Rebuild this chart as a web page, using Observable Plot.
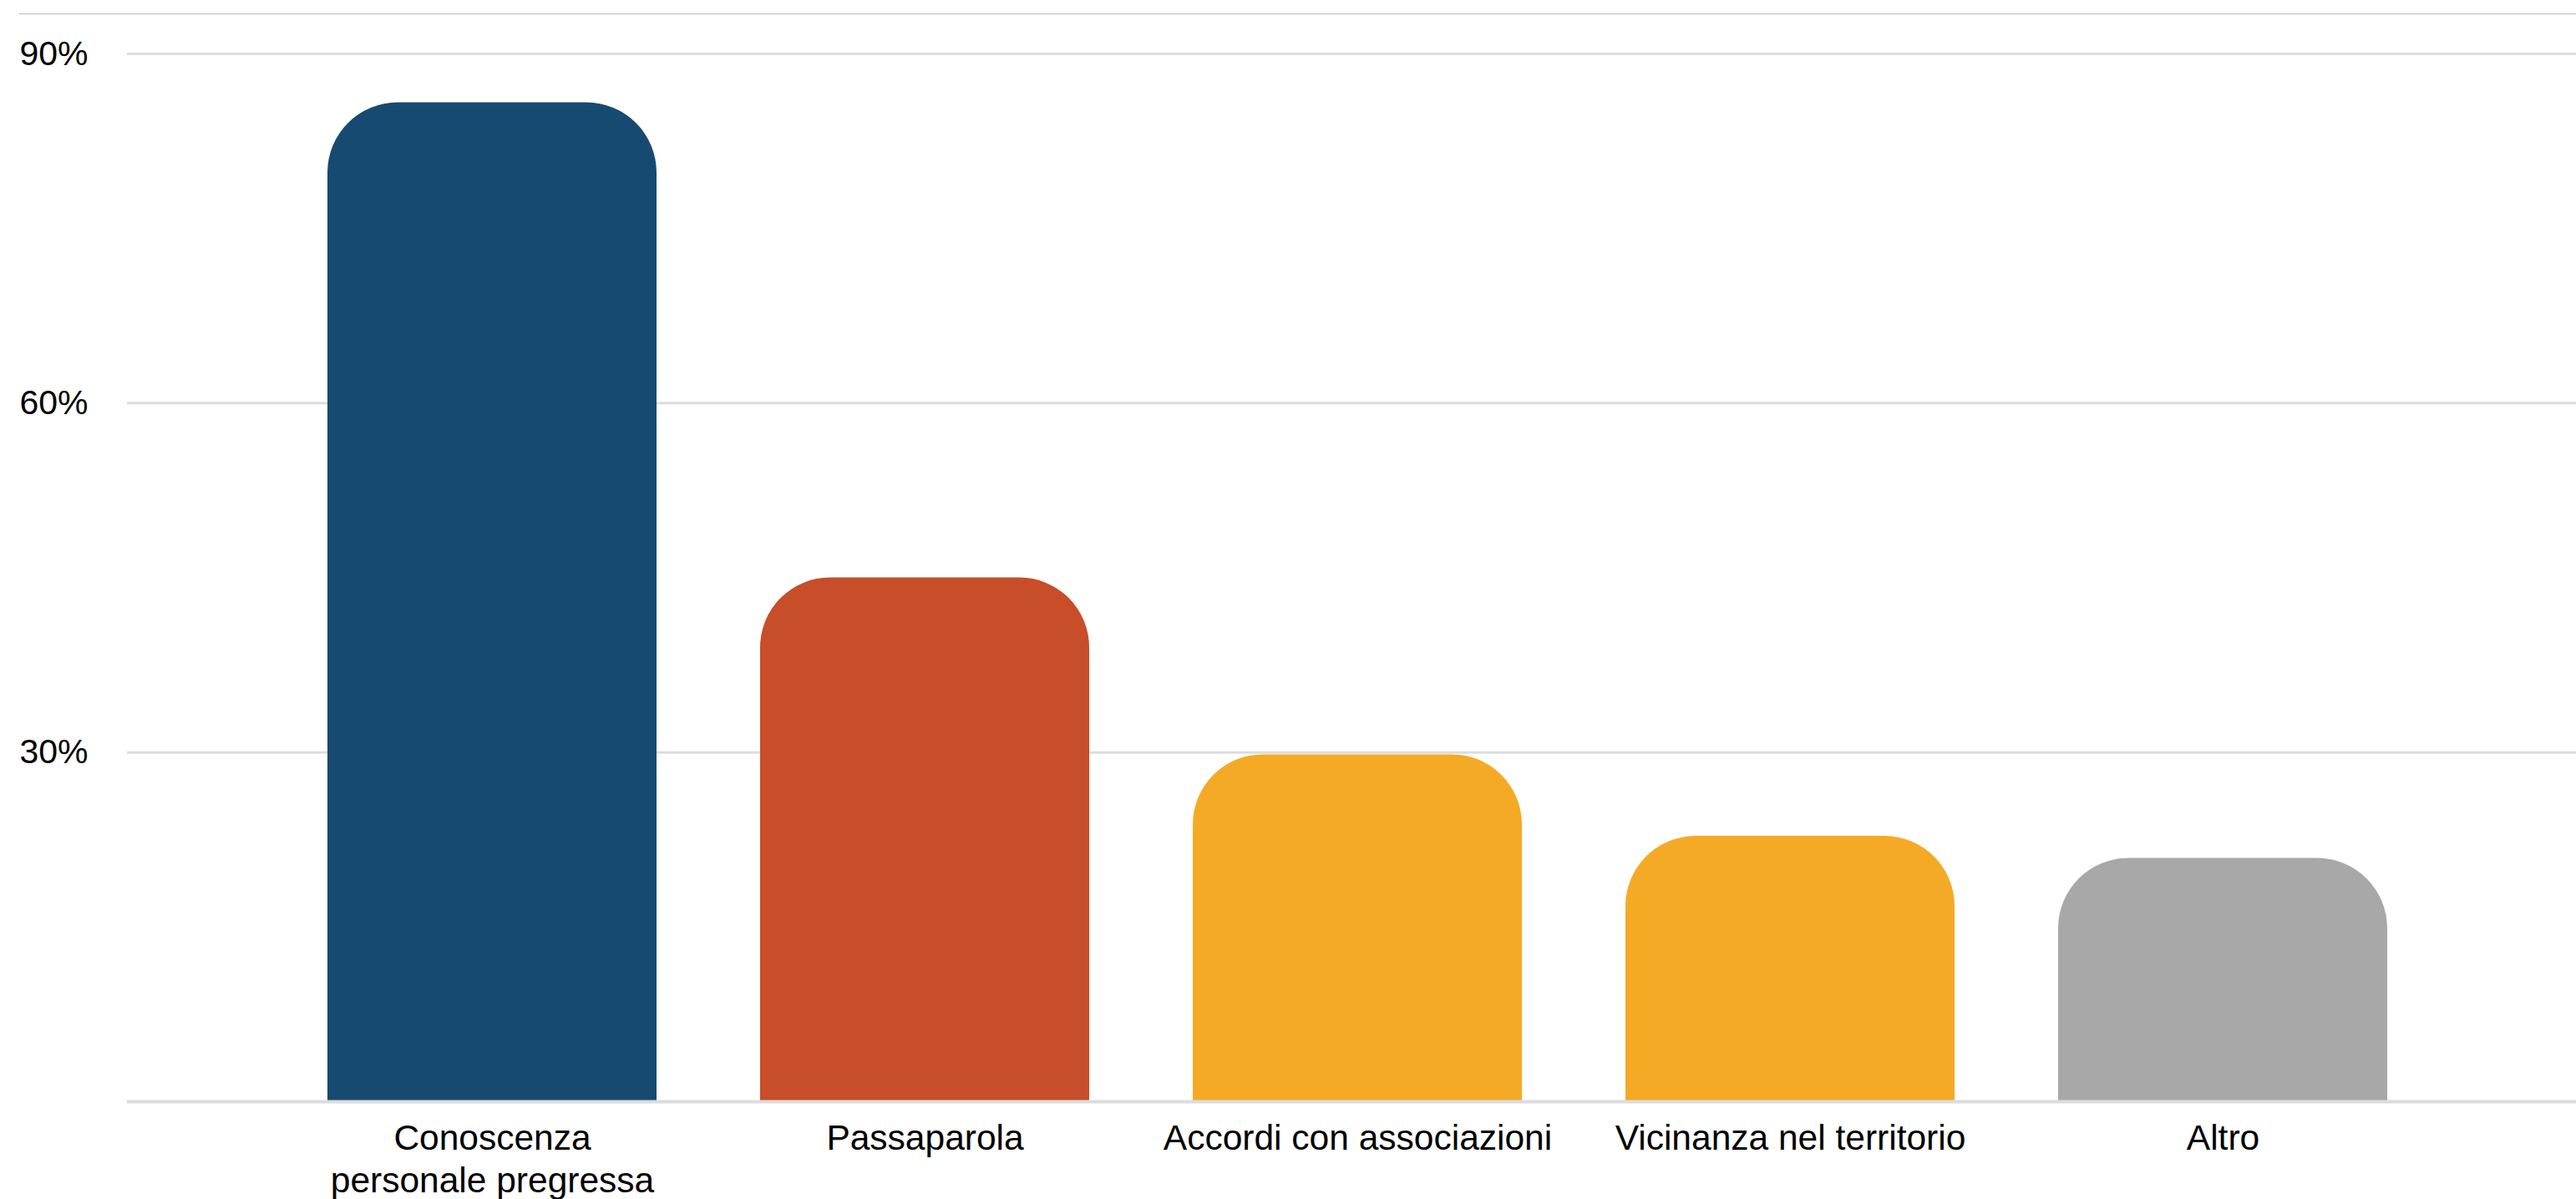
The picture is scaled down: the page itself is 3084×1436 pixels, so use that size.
<!DOCTYPE html>
<html>
<head>
<meta charset="utf-8">
<script src="https://cdn.jsdelivr.net/npm/d3@7"></script>
<script src="https://cdn.jsdelivr.net/npm/@observablehq/plot@0.6"></script>
<style>
  html, body { margin: 0; padding: 0; background: #fff; }
</style>
</head>
<body>
<div id="chart"></div>
<script>
const categories = ["Conoscenza\npersonale pregressa", "Passaparola", "Accordi con associazioni", "Vicinanza nel territorio", "Altro"];
const values = [85.8, 45, 29.8, 22.8, 20.9];
const colors = ["#174a70", "#c84d29", "#f5aa25", "#f5aa25", "#a8a8a8"];
const yTicks = [30, 60, 90];

const data = categories.map((c, i) => ({category: c, value: values[i], color: colors[i]}));

const chart = Plot.plot({
  width: 3084,
  height: 1436,
  marginLeft: 152,
  marginRight: 0,
  marginTop: 64,
  marginBottom: 117,
  style: {fontFamily: "'Liberation Sans', Arial, sans-serif", fontSize: "40px", color: "#000", background: "#fff"},
  x: {domain: categories, paddingInner: 0.24, paddingOuter: 0.45, align: 0.515, label: null, axis: null},
  y: {domain: [0, 90], label: null, axis: null},
  color: {type: "identity"},
  marks: [
    Plot.ruleY(yTicks, {stroke: "#dcdcdc", strokeWidth: 3}),
    Plot.ruleY([90], {dy: -48, insetLeft: -129, stroke: "#c8c8c8", strokeWidth: 1.5}),
    Plot.barY(data, {x: "category", y: "value", fill: "color", rx: 84}),
    Plot.barY(data, {x: "category", y: d => d.value / 2, fill: "color"}),
    Plot.ruleY([0], {stroke: "#dcdcdc", strokeWidth: 4}),
    Plot.axisX({tickSize: 0, tickPadding: 21, fontSize: 42.5, lineHeight: 1.2, label: null}),
    Plot.text(yTicks, {y: d => d, text: d => d + "%", frameAnchor: "left", dx: -129, textAnchor: "start", fontSize: 41})
  ]
});
document.getElementById("chart").append(chart);
</script>
</body>
</html>
